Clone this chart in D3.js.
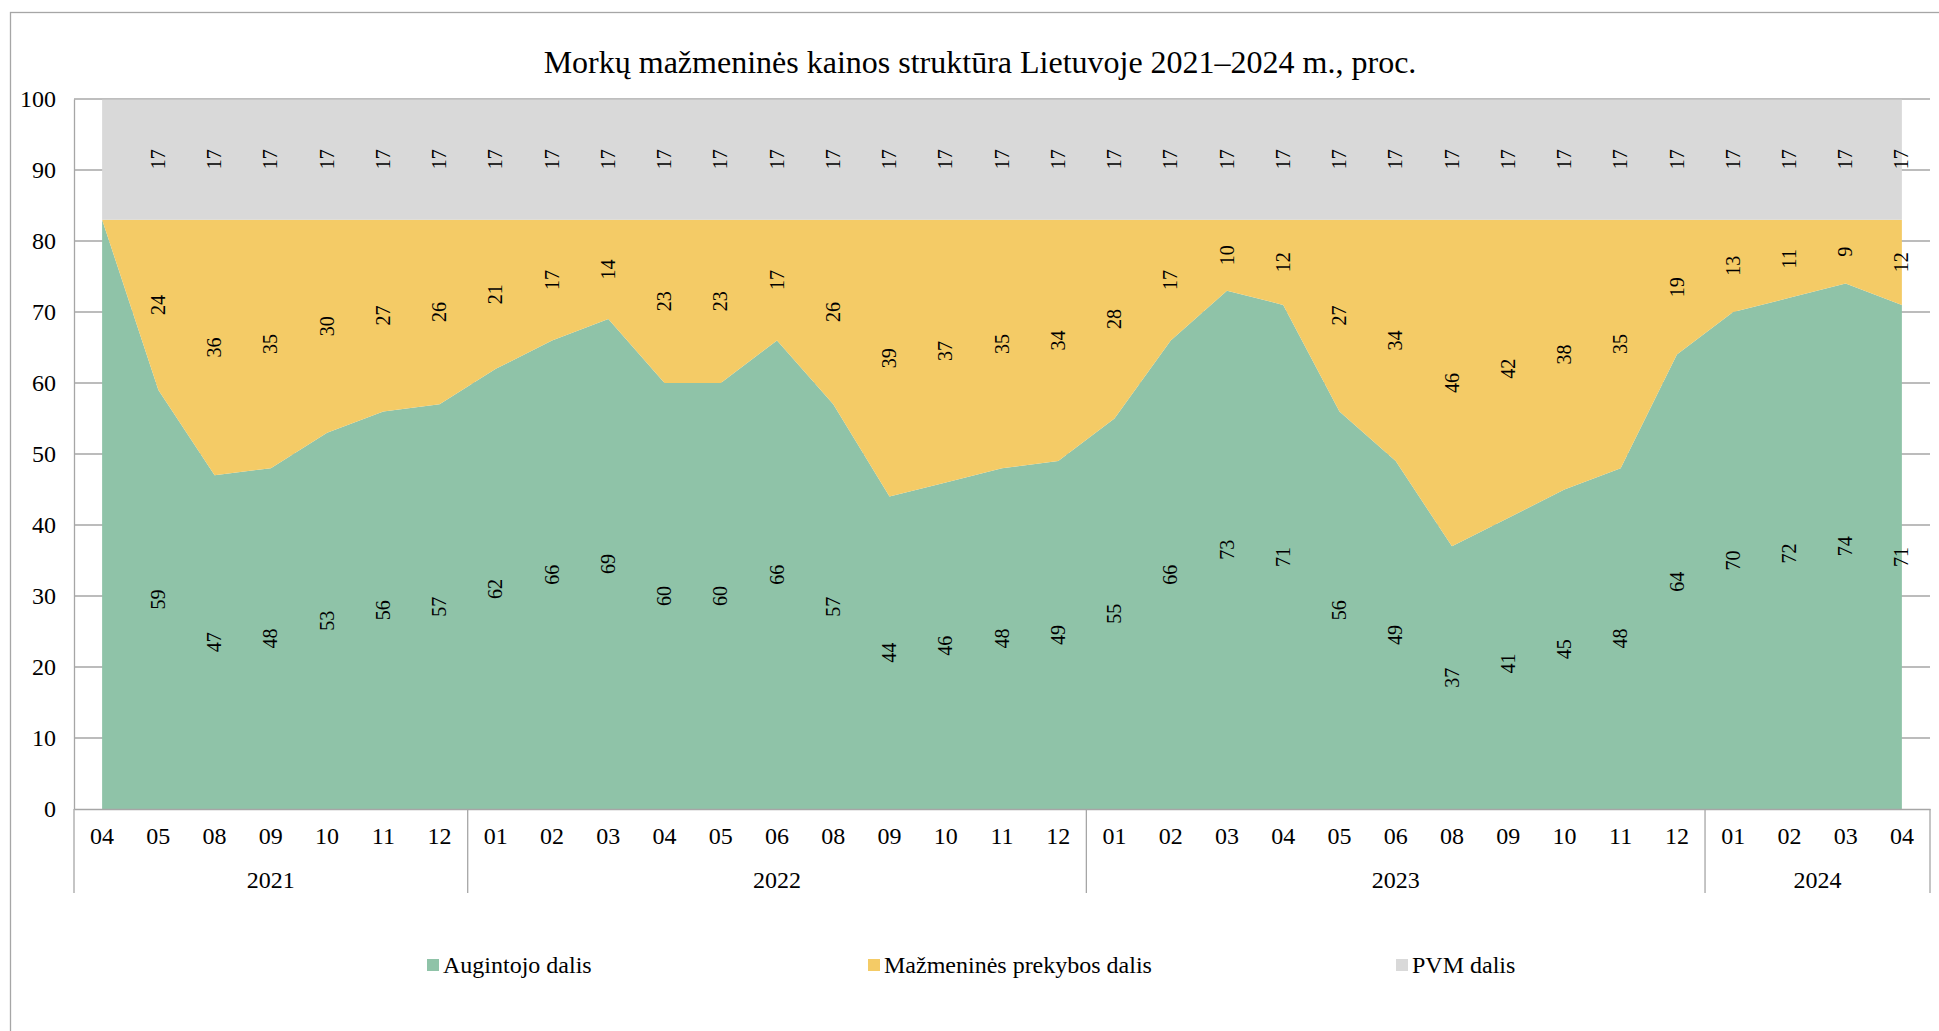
<!DOCTYPE html>
<html>
<head>
<meta charset="utf-8">
<script src="https://cdn.jsdelivr.net/npm/d3@7/dist/d3.min.js"></script>
<style>
  html, body { margin: 0; padding: 0; background: #ffffff; }
  svg { display: block; }
  text { font-family: "Liberation Serif", "Times New Roman", serif; fill: #000; }
</style>
</head>
<body>
<svg id="chart" width="1939" height="1031"></svg>
<script>
// ---- Data ----
const title = "Morkų mažmeninės kainos struktūra Lietuvoje 2021–2024 m., proc.";
const years = ["2021", "2022", "2023", "2024"];
const months2021 = ["04", "05", "08", "09", "10", "11", "12"];
const months2022 = ["01", "02", "03", "04", "05", "06", "08", "09", "10", "11", "12"];
const months2023 = ["01", "02", "03", "04", "05", "06", "08", "09", "10", "11", "12"];
const months2024 = ["01", "02", "03", "04"];
const seriesNames = ["Augintojo dalis", "Mažmeninės prekybos dalis", "PVM dalis"];
const augintojo = [83, 59, 47, 48, 53, 56, 57,
  62, 66, 69, 60, 60, 66, 57, 44, 46, 48, 49,
  55, 66, 73, 71, 56, 49, 37, 41, 45, 48, 64,
  70, 72, 74, 71];
const mazmenine = [0, 24, 36, 35, 30, 27, 26,
  21, 17, 14, 23, 23, 17, 26, 39, 37, 35, 34,
  28, 17, 10, 12, 27, 34, 46, 42, 38, 35, 19,
  13, 11, 9, 12];
const pvm = [17, 17, 17, 17, 17, 17, 17,
  17, 17, 17, 17, 17, 17, 17, 17, 17, 17, 17,
  17, 17, 17, 17, 17, 17, 17, 17, 17, 17, 17,
  17, 17, 17, 17];
// first point (2021-04) has no data labels in the original
const labelShown = augintojo.map((v, i) => i > 0);
const yTicks = [0, 10, 20, 30, 40, 50, 60, 70, 80, 90, 100];
const colors = ["#8FC3A8", "#F4CB66", "#D9D9D9"];

// ---- Build table ----
const monthGroups = [months2021, months2022, months2023, months2024];
const categories = [];
monthGroups.forEach((ms, gi) => ms.forEach(m => categories.push({ id: years[gi] + "-" + m, month: m, year: years[gi] })));
const keys = ["a", "m", "p"];
const table = categories.map((c, i) => ({ id: c.id, a: augintojo[i], m: mazmenine[i], p: pvm[i] }));

// ---- Layout ----
const svg = d3.select("#chart");
const plot = { left: 74, right: 1930, top: 99, bottom: 809 };

// frame
svg.append("rect").attr("x", 10.5).attr("y", 12.5).attr("width", 1940).attr("height", 1040)
  .attr("fill", "none").attr("stroke", "#A6A6A6").attr("stroke-width", 1.3);

svg.append("text").attr("x", 980).attr("y", 73).attr("text-anchor", "middle")
  .style("font-size", "32px").text(title);

const x = d3.scaleBand().domain(categories.map(c => c.id)).range([plot.left, plot.right]).paddingInner(0).paddingOuter(0);
const xc = id => x(id) + x.bandwidth() / 2;
const y = d3.scaleLinear().domain([0, 100]).range([plot.bottom, plot.top]);

// gridlines
svg.append("g").selectAll("line").data(yTicks.filter(t => t > 0)).join("line")
  .attr("x1", plot.left).attr("x2", plot.right)
  .attr("y1", d => y(d)).attr("y2", d => y(d))
  .attr("stroke", "#A6A6A6").attr("stroke-width", 1.3);

// stacked areas
const stack = d3.stack().keys(keys);
const stacked = stack(table);
const area = d3.area().x(d => xc(d.data.id)).y0(d => y(d[0])).y1(d => y(d[1]));
svg.append("g").selectAll("path").data(stacked).join("path")
  .attr("d", area).attr("fill", (d, i) => colors[i]);

// top gridline on top
svg.append("line").attr("x1", plot.left).attr("x2", plot.right).attr("y1", y(100)).attr("y2", y(100))
  .attr("stroke", "#BFBFBF").attr("stroke-width", 1.3);

// y axis
const yAxis = d3.axisLeft(y).tickValues(yTicks).tickSize(0).tickPadding(18);
const gy = svg.append("g").attr("transform", `translate(${plot.left},0)`).call(yAxis);
gy.select(".domain").attr("stroke", "#A6A6A6").attr("stroke-width", 1.3);
gy.selectAll("text").style("font-size", "24px").style("font-family", "Liberation Serif");

// x axis (months)
const xAxis = d3.axisBottom(x).tickSize(0).tickPadding(18).tickFormat(id => categories.find(c => c.id === id).month);
const gx = svg.append("g").attr("transform", `translate(0,${plot.bottom})`).call(xAxis);
gx.select(".domain").attr("stroke", "#A6A6A6").attr("stroke-width", 1.3);
gx.selectAll("text").style("font-size", "24px").style("font-family", "Liberation Serif");

// year groups
let idx = 0;
const groups = monthGroups.map((ms, gi) => {
  const g = { year: years[gi], first: categories[idx].id, last: categories[idx + ms.length - 1].id };
  idx += ms.length;
  return g;
});
const sepX = [plot.left].concat(groups.map(g => x(g.last) + x.bandwidth()));
svg.append("g").selectAll("line").data(sepX).join("line")
  .attr("x1", d => d).attr("x2", d => d)
  .attr("y1", plot.bottom).attr("y2", plot.bottom + 84)
  .attr("stroke", "#A6A6A6").attr("stroke-width", 1.3);
svg.append("g").selectAll("text").data(groups).join("text")
  .attr("x", g => (x(g.first) + x(g.last) + x.bandwidth()) / 2)
  .attr("y", plot.bottom + 79)
  .attr("text-anchor", "middle").style("font-size", "24px")
  .text(g => g.year);

// data labels
const lbl = svg.append("g");
stacked.forEach((s, si) => {
  lbl.selectAll(null).data(s.filter((d, i) => labelShown[i])).join("text")
    .attr("transform", d => `translate(${xc(d.data.id)},${y((d[0] + d[1]) / 2)}) rotate(-90)`)
    .attr("text-anchor", "middle").attr("dy", "0.33em")
    .style("font-size", "20px")
    .text(d => d.data[keys[si]]);
});

// legend
const legendX = [427, 868, 1396];
const lg = svg.append("g").selectAll("g").data(seriesNames).join("g")
  .attr("transform", (d, i) => `translate(${legendX[i]},965)`);
lg.append("rect").attr("x", 0).attr("y", -6).attr("width", 12).attr("height", 12)
  .attr("fill", (d, i) => colors[i]);
lg.append("text").attr("x", 16).attr("y", 0).attr("dy", "0.35em")
  .style("font-size", "24px").text(d => d);
</script>
</body>
</html>
